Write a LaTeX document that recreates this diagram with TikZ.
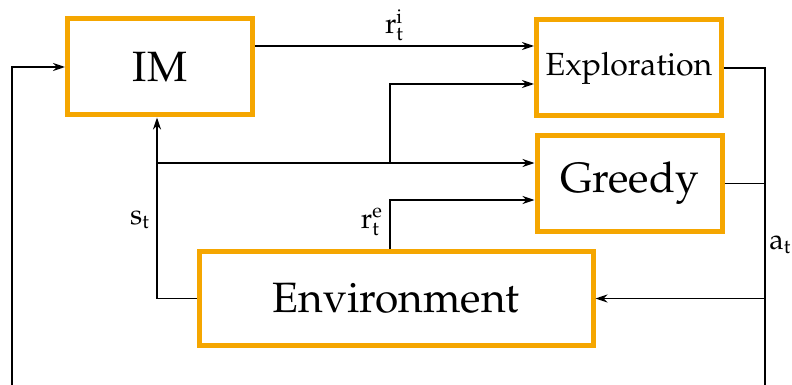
\documentclass[tikz,border=0pt]{standalone}
\usepackage[T1]{fontenc}
\usepackage{mathpazo}
\usetikzlibrary{positioning,arrows.meta}
\definecolor{boxorange}{RGB}{245,166,0}

\begin{document}
\begin{tikzpicture}[
  x=0.5pt, y=-0.5pt,
  box/.style={rectangle, draw=boxorange, line width=2.5pt, minimum width=92.5pt, minimum height=48pt, font=\fontsize{21.2}{25}\selectfont},
  wire/.style={line width=0.8pt},
  arrow/.style={wire, -{Stealth[length=6pt, width=4pt]}},
  lbl/.style={font=\Large}
  ]
  \useasboundingbox (0,0) rectangle (792,385);
  \clip (0,0) rectangle (792,385);
  \node[box] (im) at (160,67) {IM};
  \node[box, font=\fontsize{16}{19}\selectfont] (explo) at (629,68) {Exploration};
  \node[box] (greedy) at (629.5,183.5) {Greedy};
  \node[box, minimum width=197pt, minimum height=47pt] (env) at (396,298.5) {Environment};
  \coordinate (ri) at (0,46);
  \coordinate (st) at (157,163);
  \coordinate (sp) at (390,163);
  \coordinate (ax) at (765,400);
  \coordinate (lx) at (12,400);
  \draw[arrow] (im.east |- ri) -- (explo.west |- ri) node[midway, above, lbl, inner sep=2pt] (rint) {$\mathrm{r}^{\mathrm{i}}_{\mathrm{t}}$};
  \draw[arrow] (env.west) -| (st) -- (st |- im.south);
  \node[lbl, left] (state) at (157,220) {$\mathrm{s}_{\mathrm{t}}$};
  \draw[arrow] (st) -- (greedy.west |- st);
  \draw[arrow] (sp) |- ([yshift=-8pt]explo.west);
  \draw[arrow] (env.north -| sp) |- ([yshift=-8.25pt]greedy.west);
  \node[lbl, left] (rext) at (390,222) {$\mathrm{r}^{\mathrm{e}}_{\mathrm{t}}$};
  \draw[wire] (greedy.east) -- (greedy.east -| ax);
  \draw[arrow] (env.east -| ax) -- (env.east);
  \draw[arrow] (explo.east) -| (ax) -- (lx) |- (im.west);
  \node[lbl, right, inner sep=2pt] (act) at (765,245) {$\mathrm{a}_{\mathrm{t}}$};
\end{tikzpicture}
\end{document}
